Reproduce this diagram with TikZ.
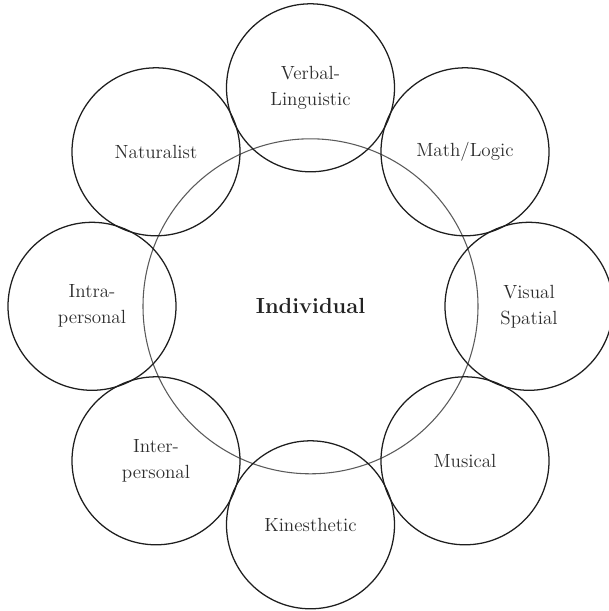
\documentclass[tikz,border=0pt]{standalone}

\tikzset{every picture/.style={line width=0.75pt}}
\tikzset{
  intel/.style={circle, draw={rgb, 255:red, 30; green, 30; blue, 30}, line width=0.95pt, minimum size=126pt, inner sep=0pt, align=center, text={rgb, 255:red, 45; green, 45; blue, 45}, font=\fontsize{14.3}{19.5}\selectfont},
  core/.style={circle, draw={rgb, 255:red, 90; green, 90; blue, 90}, line width=0.8pt, minimum size=251.25pt, inner sep=0pt, text={rgb, 255:red, 35; green, 35; blue, 35}, font=\fontsize{16.4}{20}\selectfont\bfseries}
}

\begin{document}
\begin{tikzpicture}[x=0.75pt,y=0.75pt,yscale=-1,xscale=1]
	\useasboundingbox (0,0) rectangle (608,611);

	%center
	\draw (310.5,306.3) node [core] (indiv) {Individual};

	%ring of intelligences
	\draw (310.5,87.8) node [intel] (verbal) {Verbal-\\Linguistic};
	\draw (465,151.8) node [intel] (math) {Math/Logic};
	\draw (529,306.3) node [intel] (visual) {Visual\\Spatial};
	\draw (465,460.8) node [intel] (musical) {Musical};
	\draw (310.5,524.8) node [intel] (kines) {Kinesthetic};
	\draw (156,460.8) node [intel] (inter) {Inter-\\personal};
	\draw (92,306.3) node [intel] (intra) {Intra-\\personal};
	\draw (156,151.8) node [intel] (natur) {Naturalist};

\end{tikzpicture}
\end{document}
